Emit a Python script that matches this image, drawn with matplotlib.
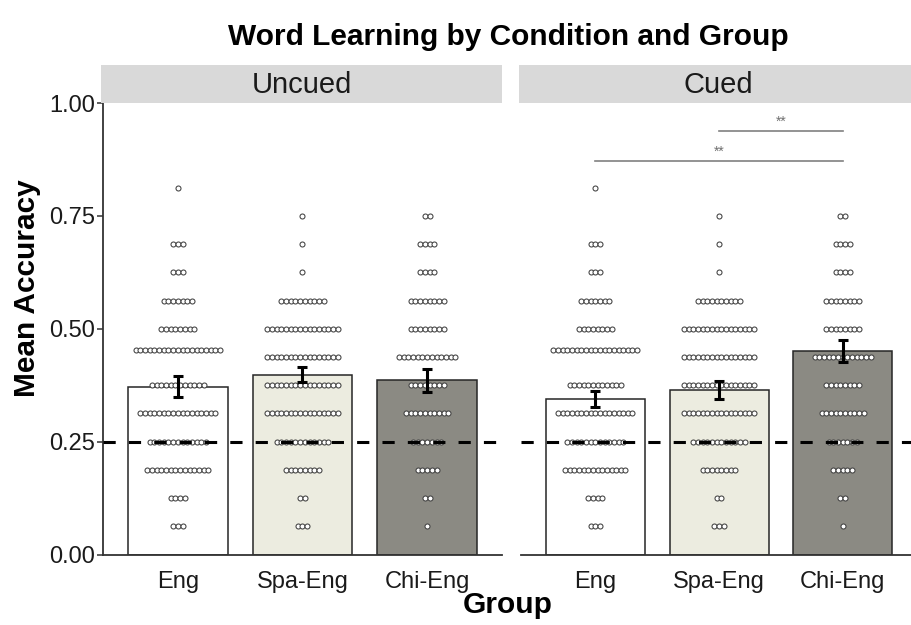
import numpy as np
import matplotlib
matplotlib.use("Agg")
import matplotlib.pyplot as plt

plt.rcParams['font.family'] = ['Liberation Sans', 'DejaVu Sans']

# === Daten ===
conditions = ['Uncued', 'Cued']
groups = ['Eng', 'Spa-Eng', 'Chi-Eng']
bar_colors = ['#FFFFFF', '#ECECE0', '#8B8A83']

# Mittelwerte und Standardfehler je Bedingung
means = {'Uncued': [0.372, 0.398, 0.386],
         'Cued':   [0.345, 0.365, 0.450]}
se = {'Uncued': [0.024, 0.017, 0.025],
      'Cued':   [0.018, 0.020, 0.024]}

# Dotplot: Zeilenwerte (Accuracy) und Anzahl Punkte je Zeile
eng_levels = [0.0625, 0.125, 0.1875, 0.25, 0.3125, 0.375, 0.453, 0.5, 0.5625, 0.625, 0.6875, 0.8125]
eng_counts = [3, 4, 14, 13, 17, 12, 19, 8, 7, 3, 3, 1]
spa_levels = [0.0625, 0.125, 0.1875, 0.25, 0.3125, 0.375, 0.4375, 0.5, 0.5625, 0.625, 0.6875, 0.75]
spa_counts = [3, 2, 8, 12, 16, 16, 16, 16, 10, 1, 1, 1]
chi_levels = [0.0625, 0.125, 0.1875, 0.25, 0.3125, 0.375, 0.4375, 0.5, 0.5625, 0.625, 0.6875, 0.75]
chi_counts = [1, 2, 5, 7, 10, 8, 13, 8, 8, 4, 4, 2]
dot_levels = [eng_levels, spa_levels, chi_levels]
dot_counts = [eng_counts, spa_counts, chi_counts]

chance = 0.25

# Signifikanz (nur Cued): (von, bis, Hoehe, Text)
sig_pairs = [(0, 2, 0.872, '**'), (1, 2, 0.939, '**')]

# === Layout (Pixel -> Figure-Anteile) ===
W, H = 912, 625
fig = plt.figure(figsize=(W / 100, H / 100), dpi=100)
panel_x = [(103, 502), (521, 917)]
y0_px, y1_px = 554.5, 103
strip_top = 65

pitch = 0.0376  # Punktabstand in x-Einheiten

axes = []
for k, cond in enumerate(conditions):
    xl, xr = panel_x[k]
    ax = fig.add_axes([xl / W, (H - y0_px) / H, (xr - xl) / W, (y0_px - y1_px) / H])
    axes.append(ax)
    x = np.arange(len(groups))
    ax.bar(x, means[cond], width=0.8, color=bar_colors, edgecolor='#262626',
           linewidth=1.1, zorder=1)

    # Punkte
    for i in range(len(groups)):
        for lev, n in zip(dot_levels[i], dot_counts[i]):
            xs = i + (np.arange(n) - (n - 1) / 2) * pitch
            ax.scatter(xs, np.full(n, lev), s=13, facecolor='white',
                       edgecolor='#404040', linewidth=0.75, zorder=2)

    ax.axhline(chance, color='black', linewidth=2.2, linestyle=(0, (4, 4.3)), zorder=3)

    ax.errorbar(x, means[cond], yerr=se[cond], fmt='none', ecolor='black',
                elinewidth=2.2, capsize=3.5, capthick=2.2, zorder=4)

    ax.set_xlim(-0.6, 2.6)
    ax.set_ylim(0, 1.0)
    ax.set_xticks(x)
    ax.set_xticklabels(groups, fontsize=17, color='#1A1A1A')
    ax.tick_params(axis='x', length=0, pad=12)
    for s in ['top', 'right']:
        ax.spines[s].set_visible(False)
    ax.spines['bottom'].set_linewidth(1.3)
    ax.spines['bottom'].set_color('#333333')
    if k == 0:
        ax.set_yticks([0, 0.25, 0.5, 0.75, 1.0])
        ax.set_yticklabels(['0.00', '0.25', '0.50', '0.75', '1.00'], fontsize=17, color='#1A1A1A')
        ax.tick_params(axis='y', length=4, width=1.1, color='#333333', pad=2)
        ax.spines['left'].set_linewidth(1.3)
        ax.spines['left'].set_color('#333333')
    else:
        ax.set_yticks([])
        ax.spines['left'].set_visible(False)

    # Strip oben
    sx = fig.add_axes([xl / W - 2 / W, (H - y1_px) / H, (xr - xl + 2) / W, (y1_px - strip_top) / H])
    sx.set_facecolor('#D9D9D9')
    sx.set_xticks([])
    sx.set_yticks([])
    for s in sx.spines.values():
        s.set_visible(False)
    sx.text(0.5, 0.48, cond, ha='center', va='center', fontsize=21, color='#1A1A1A',
            transform=sx.transAxes)

# Signifikanzlinien im Cued-Panel
for a, b, h, lab in sig_pairs:
    axes[1].plot([a, b], [h, h], color='#808080', linewidth=1.2, zorder=5, clip_on=False)
    axes[1].text((a + b) / 2, h + 0.005, lab, ha='center', va='bottom', fontsize=10,
                 color='#707070')

fig.text(508 / W, 1 - 37 / H, 'Word Learning by Condition and Group', ha='center', va='center',
         fontsize=21.5, fontweight='bold')
fig.text(508 / W, 1 - 605 / H, 'Group', ha='center', va='center', fontsize=21.5, fontweight='bold')
fig.text(27 / W, 1 - 288 / H, 'Mean Accuracy', ha='center', va='center', rotation=90,
         fontsize=21.5, fontweight='bold')

fig.savefig('out.png', dpi=100)
